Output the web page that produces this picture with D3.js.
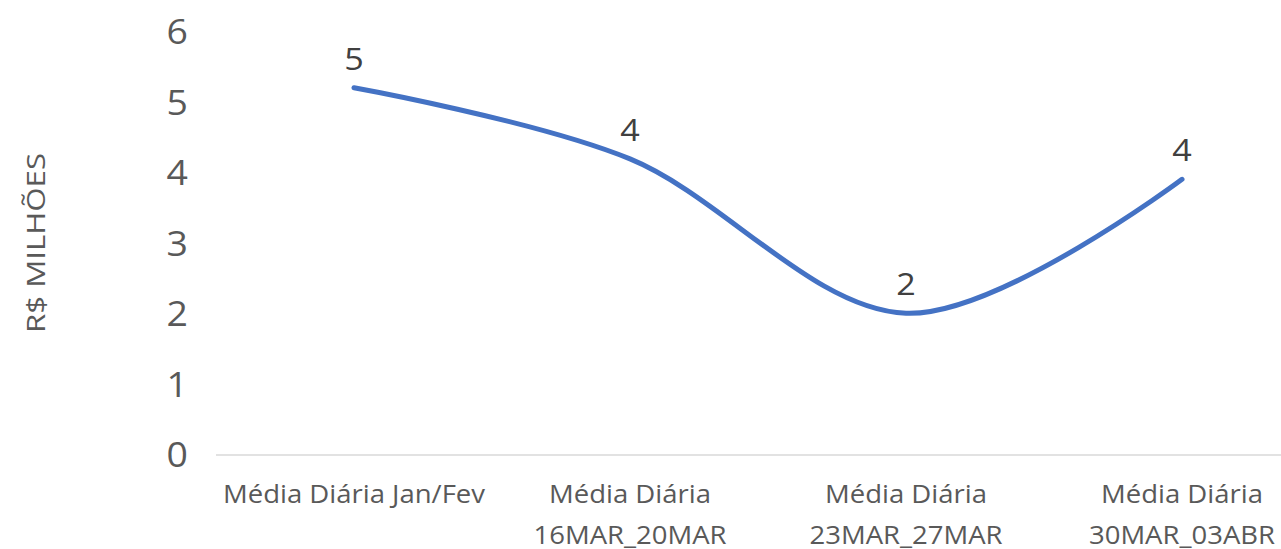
<!DOCTYPE html>
<html>
<head>
<meta charset="utf-8">
<script src="https://cdn.jsdelivr.net/npm/d3@7/dist/d3.min.js"></script>
<style>
  html, body { margin: 0; padding: 0; background: #fff; }
  svg { display: block; font-family: "Open Sans", sans-serif; }
</style>
</head>
<body>
<svg id="chart" width="1281" height="549"></svg>
<script>
// data
const categories = [
  ["Média Diária Jan/Fev"],
  ["Média Diária", "16MAR_20MAR"],
  ["Média Diária", "23MAR_27MAR"],
  ["Média Diária", "30MAR_03ABR"]
];
const values = [5.21, 4.2, 2.01, 3.91];
const yTicks = [0, 1, 2, 3, 4, 5, 6];
const yTitle = "R$ MILHÕES";

const svg = d3.select("#chart");
const W = 1281, H = 549;
const stretch = 1.1; // text in the reference is slightly wide

const x = d3.scaleBand().domain(d3.range(categories.length)).range([216, 1320]).padding(0);
const y = d3.scaleLinear().domain([0, 6]).range([455, 32]);
const cx = i => x(i) + x.bandwidth() / 2;

// baseline
svg.append("line")
  .attr("x1", 216).attr("x2", W)
  .attr("y1", y(0)).attr("y2", y(0))
  .attr("stroke", "#d9d9d9").attr("stroke-width", 1.5);

// y tick labels
svg.append("g").selectAll("text").data(yTicks).join("text")
  .attr("transform", d => `translate(188,${y(d)}) scale(${stretch},1)`)
  .attr("text-anchor", "end")
  .attr("dy", "0.36em")
  .attr("font-size", 34)
  .attr("fill", "#595959")
  .text(d => d);

// y title
svg.append("text")
  .attr("transform", "translate(45,243) rotate(-90)")
  .attr("text-anchor", "middle")
  .attr("font-size", 25)
  .attr("textLength", 180)
  .attr("lengthAdjust", "spacingAndGlyphs")
  .attr("fill", "#595959")
  .text(yTitle);

// x category labels
const xl = svg.append("g").selectAll("text").data(categories).join("text")
  .attr("transform", (d, i) => `translate(${cx(i)},503) scale(${stretch},1)`)
  .attr("text-anchor", "middle")
  .attr("font-size", 25)
  .attr("fill", "#595959");
xl.selectAll("tspan").data(d => d).join("tspan")
  .attr("x", 0)
  .attr("dy", (d, j) => j === 0 ? 0 : 41)
  .text(d => d);

// smoothed line
const line = d3.line()
  .x((d, i) => cx(i))
  .y(d => y(d))
  .curve(d3.curveCatmullRom.alpha(0));

svg.append("path")
  .datum(values)
  .attr("d", line)
  .attr("fill", "none")
  .attr("stroke", "#4472c4")
  .attr("stroke-width", 5)
  .attr("stroke-linecap", "round");

// data labels
svg.append("g").selectAll("text").data(values).join("text")
  .attr("transform", (d, i) => `translate(${cx(i)},${y(d) - 18}) scale(${stretch},1)`)
  .attr("text-anchor", "middle")
  .attr("font-size", 31)
  .attr("fill", "#404040")
  .text(d => d3.format(".0f")(d));
</script>
</body>
</html>
